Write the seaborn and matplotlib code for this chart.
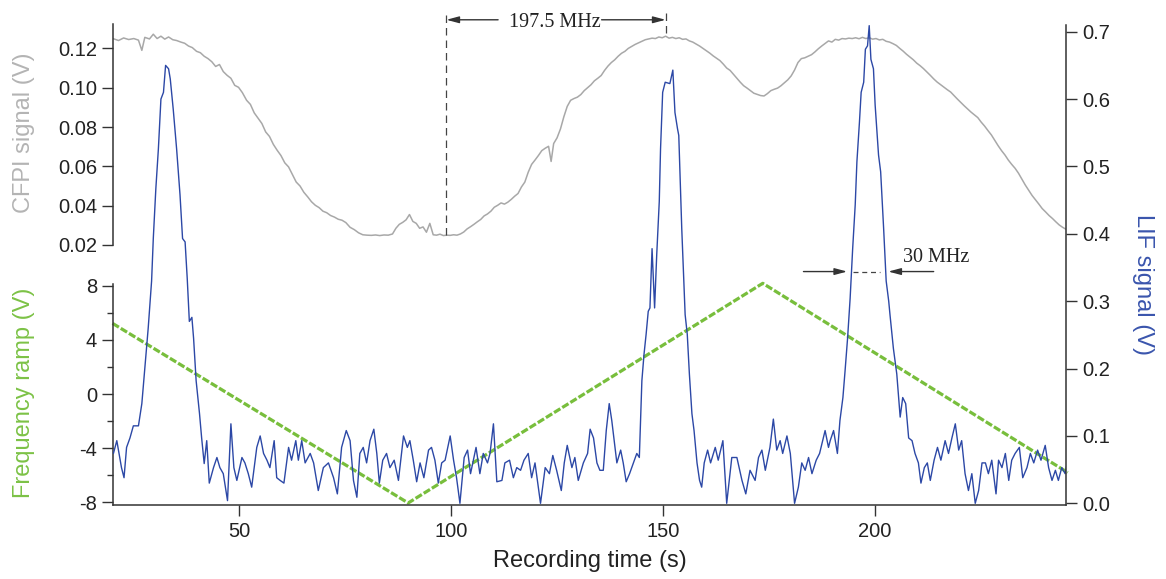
import matplotlib
matplotlib.use("Agg")
import matplotlib.pyplot as plt
import seaborn as sns

# Recording time (s) / LIF signal (V)
lif_t = [20.4, 21.2, 22.3, 22.9, 23.5, 24.3, 25.1, 26.3, 27.1, 27.9, 28.6, 29.4, 29.8, 30.4, 31.0, 31.6,
         32.2, 32.7, 33.4, 33.8, 34.5, 35.3, 36.1, 36.7, 37.3, 37.8, 38.3, 38.9, 39.3, 39.9, 40.7, 41.2,
         41.8, 42.4, 43.0, 44.0, 44.8, 45.5, 46.3, 47.3, 48.1, 48.8, 49.5, 50.7, 51.4, 52.2, 53.0, 54.2,
         55.0, 55.8, 56.6, 57.3, 58.3, 58.9, 59.7, 60.6, 61.7, 62.4, 63.4, 64.0, 64.8, 65.6, 66.8, 67.6,
         68.7, 69.9, 71.1, 72.3, 73.2, 74.2, 75.3,
         76.2, 77.0, 77.8, 78.5, 79.3, 80.1, 80.9, 81.8, 82.5, 83.1, 83.9, 84.8, 85.6, 86.6, 87.6, 88.8,
         89.7, 90.3, 91.1, 91.9, 92.7, 93.6, 94.7, 95.4, 96.2, 97.0, 97.8, 98.6, 99.8, 100.6, 101.3, 102.1,
         103.1, 103.9, 104.6, 105.9, 106.8, 107.6, 108.6, 109.2, 110.0, 110.8, 112.0, 112.7, 113.8, 114.7,
         115.5, 116.4, 117.2, 118.2, 119.0, 119.8, 121.1, 122.2, 123.2, 124.0, 124.9, 126.0, 126.7, 127.4,
         128.5, 129.2, 130.0, 131.2, 132.2,
         132.8, 133.6, 134.4, 135.1, 135.9, 136.6, 137.3, 137.9, 138.4, 139.1, 140.0, 140.6, 141.3, 142.1,
         143.0, 143.8, 144.4, 145.0, 145.5, 146.0, 146.5, 146.9, 147.4, 148.0, 148.5, 149.1, 149.4, 149.9,
         150.5, 151.6, 152.3, 152.8, 153.4, 153.7, 154.4, 155.2, 155.7, 156.2, 156.8, 157.3, 158.0, 158.6,
         159.1, 159.7, 160.5, 161.2, 162.3, 163.0, 164.1, 165.0, 166.2, 167.4, 168.6, 169.5, 170.5, 171.7,
         172.5, 173.3, 174.1, 175.2, 176.0, 176.8, 177.6, 178.2, 179.2, 180.0, 181.0, 181.9, 182.7, 183.5,
         184.3, 185.1, 186.1, 186.9, 188.2, 189.0,
         189.4, 190.2, 191.1, 191.7, 192.4, 192.9, 193.5, 194.1, 194.7, 195.3, 195.7, 196.3, 196.7, 197.3,
         197.7, 198.2, 198.6, 199.0, 199.6, 200.0, 200.8, 201.3, 202.0, 202.6, 203.2, 203.5, 204.3, 205.1,
         205.9, 206.5, 207.2, 207.9, 208.7, 209.4, 210.2, 210.8, 211.6, 212.3, 213.0, 213.9, 214.7, 215.5,
         216.5, 217.3, 218.1, 218.9, 219.7, 220.4, 221.2, 222.0, 222.8, 223.6, 224.4, 225.2, 226.0, 226.7,
         227.5, 228.5, 229.1, 229.9, 230.7, 231.5, 232.2, 233.0, 234.0, 234.8, 235.8, 236.6, 237.4, 238.3,
         239.1, 240.1, 240.9, 241.7, 242.5, 243.2, 244.0, 244.8, 245.4]
lif_v = [0.074, 0.093, 0.053, 0.038, 0.083, 0.097, 0.115, 0.115, 0.148, 0.207, 0.260, 0.330, 0.393, 0.467, 0.526, 0.600,
         0.610, 0.650, 0.645, 0.630, 0.585, 0.526, 0.458, 0.393, 0.388, 0.334, 0.270, 0.276, 0.245, 0.182, 0.133, 0.097,
         0.059, 0.093, 0.030, 0.053, 0.068, 0.053, 0.044, 0.004, 0.118, 0.053, 0.034, 0.068, 0.060, 0.044, 0.024, 0.083,
         0.100, 0.074, 0.064, 0.053, 0.093, 0.038, 0.034, 0.030, 0.083, 0.064, 0.093, 0.064, 0.093, 0.060, 0.074, 0.060,
         0.019, 0.053, 0.060, 0.038, 0.014, 0.083, 0.108,
         0.093, 0.034, 0.009, 0.074, 0.083, 0.060, 0.093, 0.110, 0.074, 0.030, 0.064, 0.074, 0.053, 0.064, 0.034, 0.100,
         0.083, 0.093, 0.064, 0.032, 0.060, 0.038, 0.079, 0.083, 0.064, 0.030, 0.060, 0.064, 0.100, 0.064, 0.038, 0.000,
         0.068, 0.079, 0.044, 0.083, 0.044, 0.074, 0.060, 0.074, 0.118, 0.032, 0.034, 0.060, 0.064, 0.038,
         0.053, 0.049, 0.064, 0.074, 0.038, 0.060, 0.000, 0.053, 0.044, 0.071, 0.049, 0.019, 0.060, 0.086,
         0.053, 0.068, 0.034, 0.060, 0.074,
         0.110, 0.097, 0.060, 0.049, 0.049, 0.108, 0.148, 0.123, 0.097, 0.060, 0.079, 0.060, 0.032, 0.044,
         0.060, 0.074, 0.068, 0.182, 0.221, 0.251, 0.285, 0.290, 0.378, 0.290, 0.369, 0.448, 0.526, 0.610,
         0.625, 0.623, 0.643, 0.580, 0.556, 0.546, 0.408, 0.280, 0.251, 0.192, 0.133, 0.108, 0.060, 0.034,
         0.024, 0.060, 0.079, 0.060, 0.083, 0.064, 0.093, 0.000, 0.068, 0.068, 0.034, 0.014, 0.049, 0.034,
         0.068, 0.079, 0.049, 0.083, 0.125, 0.079, 0.093, 0.074, 0.100, 0.074, 0.000, 0.024, 0.060, 0.049,
         0.068, 0.044, 0.064, 0.074, 0.108, 0.083,
         0.093, 0.108, 0.074, 0.123, 0.157, 0.196, 0.245, 0.304, 0.378, 0.443, 0.507, 0.566, 0.610, 0.625,
         0.674, 0.679, 0.709, 0.659, 0.645, 0.591, 0.517, 0.492, 0.408, 0.330, 0.300, 0.280, 0.230, 0.192,
         0.128, 0.157, 0.148, 0.097, 0.093, 0.074, 0.060, 0.030, 0.053, 0.060, 0.034, 0.064, 0.083, 0.064,
         0.093, 0.074, 0.097, 0.118, 0.079, 0.093, 0.044, 0.019, 0.044, 0.000, 0.019, 0.060, 0.060, 0.044,
         0.064, 0.014, 0.064, 0.053, 0.074, 0.034, 0.064, 0.074, 0.083, 0.038, 0.053, 0.074, 0.060, 0.079,
         0.064, 0.086, 0.053, 0.034, 0.049, 0.034, 0.053, 0.044, 0.064]

# Recording time (s) / CFPI transmission (V), grey trace
cfpi_t = [20.4, 21.6, 22.8, 24.0, 25.2, 26.3, 27.1, 27.8, 28.9, 29.8, 30.7, 31.6, 32.5, 33.4, 34.4, 35.3,
          36.3, 37.2, 38.1, 39.0, 40.0, 40.9, 41.8, 42.7, 43.6, 44.5, 45.4, 46.3, 47.2, 48.1, 49.0, 49.9,
          50.8, 51.8, 52.7, 53.6, 54.5, 55.4, 56.3, 57.2, 58.1, 59.0, 59.9, 60.8, 61.7, 62.6, 63.5, 64.4,
          65.3, 66.2, 67.1, 68.0, 68.9, 69.8, 70.7, 71.6, 72.5, 73.4, 74.3, 75.2, 76.2, 77.2, 78.2, 79.2,
          80.2, 81.2, 82.2, 83.2, 84.2, 85.2, 86.2, 87.0, 87.8, 88.6, 89.4, 90.2, 91.0, 91.8, 92.6, 93.4,
          94.2, 95.0, 95.8, 96.6, 97.4, 98.2, 99.0, 99.8, 100.6, 101.4, 102.2, 103.0, 103.8, 104.6, 105.4,
          106.2, 107.0, 107.8, 108.6, 109.4, 110.2, 111.0, 111.8, 112.6, 113.4, 114.2, 115.0, 115.8, 116.6,
          117.4, 118.2, 119.0, 119.8, 120.6, 121.4, 122.2, 123.0, 123.6, 124.2, 125.0, 125.8, 126.6, 127.4,
          128.2, 129.0, 129.8, 130.6, 131.4, 132.2, 133.0, 133.8, 134.6, 135.4, 136.2, 137.0, 137.8, 138.6,
          139.4, 140.2, 141.0, 141.8, 142.6, 143.4, 144.2, 145.0, 145.8, 146.6, 147.4, 148.2, 149.0, 149.8,
          150.6, 151.4, 152.2, 153.0, 153.8, 154.6, 155.4, 156.2, 157.0, 157.8, 158.6, 159.4, 160.2, 161.0,
          161.8, 162.6, 163.4, 164.2, 165.0, 165.8, 166.6, 167.4, 168.2, 169.0, 169.8, 170.6, 171.4, 172.2,
          173.0, 173.8, 174.6, 175.4, 176.2, 177.0, 177.8, 178.6, 179.4, 180.2, 181.0, 181.8, 182.6, 183.4,
          184.2, 185.0, 185.8, 186.6, 187.4, 188.2, 189.0, 189.8, 190.6, 191.4, 192.2, 193.0, 193.8, 194.6,
          195.4, 196.2, 197.0, 197.8, 198.6, 199.4, 200.2, 201.0, 201.8, 202.6, 203.4, 204.2, 205.0, 205.8,
          206.6, 207.4, 208.2, 209.0, 209.8, 210.6, 211.4, 212.2, 213.0, 213.8, 214.6, 215.4, 216.2, 217.0,
          217.8, 218.6, 219.4, 220.2, 221.0, 221.8, 222.6, 223.4, 224.2, 225.0, 225.8, 226.6, 227.4, 228.2,
          229.0, 229.8, 230.6, 231.4, 232.2, 233.0, 233.8, 234.6, 235.4, 236.2, 237.0, 237.8, 238.6, 239.4,
          240.2, 241.0, 241.8, 242.6, 243.4, 244.2, 245.0]
cfpi_v = [0.1249, 0.1240, 0.1253, 0.1245, 0.1250, 0.1242, 0.1190, 0.1256, 0.1248, 0.1272, 0.1250, 0.1262, 0.1247, 0.1258, 0.1244, 0.1240,
          0.1232, 0.1226, 0.1212, 0.1204, 0.1185, 0.1178, 0.1160, 0.1148, 0.1132, 0.1108, 0.1118, 0.1082, 0.1063, 0.1048, 0.1012, 0.1002,
          0.0975, 0.0936, 0.0915, 0.0872, 0.0845, 0.0818, 0.0775, 0.0752, 0.0712, 0.0682, 0.0655, 0.0618, 0.0597, 0.0558, 0.0520, 0.0500,
          0.0468, 0.0445, 0.0420, 0.0402, 0.0390, 0.0372, 0.0364, 0.0350, 0.0342, 0.0331, 0.0326, 0.0314, 0.0290, 0.0278, 0.0262, 0.0252,
          0.0250, 0.0249, 0.0251, 0.0248, 0.0251, 0.0250, 0.0256, 0.0285, 0.0305, 0.0315, 0.0328, 0.0355, 0.0320, 0.0310, 0.0285, 0.0292,
          0.0265, 0.0310, 0.0252, 0.0250, 0.0255, 0.0248, 0.0250, 0.0249, 0.0252, 0.0250, 0.0256, 0.0266, 0.0282, 0.0293, 0.0305,
          0.0318, 0.0330, 0.0348, 0.0358, 0.0372, 0.0392, 0.0402, 0.0414, 0.0408, 0.0418, 0.0432, 0.0448, 0.0462, 0.0495,
          0.0520, 0.0570, 0.0610, 0.0632, 0.0655, 0.0680, 0.0692, 0.0702, 0.0625, 0.0716, 0.0745, 0.0790, 0.0852, 0.0905,
          0.0936, 0.0945, 0.0952, 0.0965, 0.0985, 0.1000, 0.1015, 0.1035, 0.1048, 0.1062, 0.1088, 0.1110, 0.1128, 0.1142,
          0.1160, 0.1175, 0.1185, 0.1200, 0.1210, 0.1220, 0.1228, 0.1236, 0.1244, 0.1248, 0.1252, 0.1250, 0.1258, 0.1254,
          0.1262, 0.1252, 0.1256, 0.1250, 0.1254, 0.1246, 0.1248, 0.1238, 0.1232, 0.1222, 0.1212, 0.1200, 0.1188, 0.1176,
          0.1162, 0.1150, 0.1138, 0.1120, 0.1100, 0.1088, 0.1068, 0.1048, 0.1028, 0.1010, 0.0998, 0.0985, 0.0972, 0.0966,
          0.0960, 0.0958, 0.0970, 0.0985, 0.0992, 0.0998, 0.1010, 0.1025, 0.1040, 0.1060, 0.1090, 0.1128, 0.1148, 0.1152,
          0.1160, 0.1168, 0.1182, 0.1198, 0.1212, 0.1225, 0.1238, 0.1232, 0.1246, 0.1242, 0.1250, 0.1248, 0.1252, 0.1250,
          0.1254, 0.1249, 0.1256, 0.1250, 0.1254, 0.1247, 0.1250, 0.1243, 0.1246, 0.1236, 0.1232, 0.1224, 0.1215, 0.1200,
          0.1186, 0.1170, 0.1156, 0.1142, 0.1125, 0.1112, 0.1097, 0.1080, 0.1063, 0.1045, 0.1029, 0.1016, 0.1003, 0.0990,
          0.0978, 0.0960, 0.0942, 0.0925, 0.0908, 0.0892, 0.0876, 0.0862, 0.0848, 0.0825, 0.0805, 0.0782, 0.0760, 0.0732,
          0.0705, 0.0680, 0.0658, 0.0632, 0.0610, 0.0590, 0.0565, 0.0535, 0.0505, 0.0478, 0.0452, 0.0430, 0.0408, 0.0385,
          0.0368, 0.0350, 0.0335, 0.0318, 0.0302, 0.0290, 0.0280]

# Frequency ramp (V): turning points of the triangular scan
ramp_t = [20.2, 89.9, 173.5, 245.4]
ramp_v = [5.22, -8.05, 8.18, -5.80]

x_ticks = [50, 100, 150, 200]
cfpi_ticks = [0.02, 0.04, 0.06, 0.08, 0.10, 0.12]
ramp_ticks = [-8, -4, 0, 4, 8]
ramp_minor = [-6, -2, 2, 6]
lif_ticks = [0.0, 0.1, 0.2, 0.3, 0.4, 0.5, 0.6, 0.7]

GREY, BLUE, GREEN = "#a8a8a8", "#2c48a6", "#78be3c"
INK = "#333333"

sns.set_theme(style="ticks")
plt.rcParams["font.family"] = ["Liberation Sans", "DejaVu Sans"]

W, H = 1166, 579
fig = plt.figure(figsize=(W / 100, H / 100), dpi=100)
fig.patch.set_facecolor("white")


def frac(px_left, px_top, px_right, px_bottom):
    return [px_left / W, 1 - px_bottom / H, (px_right - px_left) / W, (px_bottom - px_top) / H]


ax_cfpi = fig.add_axes(frac(113, 24, 1066, 245))
ax_ramp = fig.add_axes(frac(113, 284, 1066, 505))
ax_lif = fig.add_axes(frac(113, 24.5, 1066, 505))
for z, ax in enumerate([ax_cfpi, ax_ramp, ax_lif]):
    ax.set_zorder(z + 1)
    ax.patch.set_visible(False)
    ax.set_xlim(20.3, 245.0)
    for s in ax.spines.values():
        s.set_visible(False)
        s.set_color(INK)
        s.set_linewidth(1.1)
    ax.tick_params(direction="out", length=8, width=1, color=INK, labelcolor="#222222",
                   labelsize=14.5, pad=3.5)

# CFPI (top left)
sns.lineplot(x=cfpi_t, y=cfpi_v, ax=ax_cfpi, color=GREY, lw=1.1, estimator=None, sort=False)
ax_cfpi.set_ylim(0.02, 0.1324)
ax_cfpi.spines["left"].set_visible(True)
ax_cfpi.set_yticks(cfpi_ticks)
ax_cfpi.set_yticklabels([f"{v:.2f}" for v in cfpi_ticks])
ax_cfpi.set_xticks([])

# frequency ramp (bottom left)
sns.lineplot(x=ramp_t, y=ramp_v, ax=ax_ramp, color=GREEN, lw=2.3, linestyle=(0, (2.3, 0.7)),
             estimator=None, sort=False, clip_on=False)
ax_ramp.set_ylim(-8.2, 8.13)
ax_ramp.spines["left"].set_visible(True)
ax_ramp.set_yticks(ramp_ticks)
ax_ramp.set_yticklabels([str(v) for v in ramp_ticks])
ax_ramp.set_yticks(ramp_minor, minor=True)
ax_ramp.tick_params(axis="y", which="minor", direction="out", length=4, width=1, color=INK)
ax_ramp.set_xticks([])

# LIF (right axis) and time axis
sns.lineplot(x=lif_t, y=lif_v, ax=ax_lif, color=BLUE, lw=1.0, estimator=None, sort=False)
ax_lif.set_ylim(-0.0025, 0.7107)
ax_lif.spines["right"].set_visible(True)
ax_lif.spines["bottom"].set_visible(True)
ax_lif.yaxis.tick_right()
ax_lif.set_yticks(lif_ticks)
ax_lif.set_yticklabels([f"{v:.1f}" for v in lif_ticks])
ax_lif.set_xticks(x_ticks)
ax_lif.set_xticklabels([str(v) for v in x_ticks])
ax_lif.tick_params(axis="x", pad=4)
ax_lif.set_xlabel("")
ax_lif.set_ylabel("")

fig.text(24 / W, 1 - 132.5 / H, "CFPI signal (V)", rotation=90, ha="center", va="center",
         color="#b4b4b4", fontsize=17)
fig.text(24 / W, 1 - 392.5 / H, "Frequency ramp (V)", rotation=90, ha="center", va="center",
         color="#7cc246", fontsize=17)
fig.text(1143 / W, 1 - 285 / H, "LIF signal (V)", rotation=270, ha="center", va="center",
         color="#3a55ad", fontsize=17)
fig.text(589.5 / W, 1 - 561 / H, "Recording time (s)", ha="center", va="center",
         color="#222222", fontsize=17)

# free spectral range marker
serif = ["Liberation Serif", "DejaVu Serif"]
arrow = dict(arrowstyle="-|>,head_length=0.75,head_width=0.2", color=INK, lw=1.0,
             shrinkA=0, shrinkB=0, mutation_scale=10)
dash = dict(color="#444444", lw=0.9, ls=(0, (6, 4)), clip_on=False)
ax_lif.plot([98.8, 98.8], [0.398, 0.725], **dash)
ax_lif.plot([150.7, 150.7], [0.698, 0.732], **dash)
ax_lif.annotate("", xy=(98.9, 0.7177), xytext=(111.1, 0.7177), arrowprops=arrow, annotation_clip=False)
ax_lif.annotate("", xy=(150.6, 0.7177), xytext=(135.5, 0.7177), arrowprops=arrow, annotation_clip=False)
ax_lif.text(124.6, 0.7075, "197.5 MHz", ha="center", va="baseline", family=serif,
            fontsize=14.5, color="#222222", clip_on=False)

# linewidth marker
ax_lif.annotate("", xy=(193.4, 0.344), xytext=(183.1, 0.344), arrowprops=arrow)
ax_lif.annotate("", xy=(203.1, 0.344), xytext=(213.8, 0.344), arrowprops=arrow)
ax_lif.plot([194.8, 201.2], [0.344, 0.344], color="#444444", lw=0.9, ls=(0, (4, 3)))
ax_lif.text(206.6, 0.3587, "30 MHz", ha="left", va="baseline", family=serif,
            fontsize=14.5, color="#222222")

fig.savefig("out.png", dpi=100, facecolor="white")
